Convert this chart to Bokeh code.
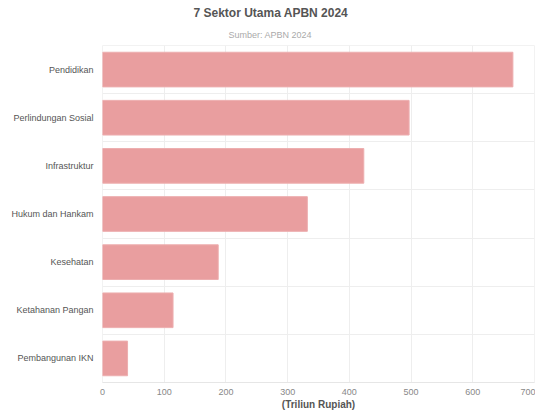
from bokeh.plotting import figure
from bokeh.models import Range1d, FixedTicker, Title, ColumnDataSource
from bokeh.embed import file_html
from bokeh.resources import INLINE

categories = ["Pendidikan", "Perlindungan Sosial", "Infrastruktur", "Hukum dan Hankam",
              "Kesehatan", "Ketahanan Pangan", "Pembangunan IKN"]
values = [665.0, 496.8, 423.4, 331.9, 187.5, 114.3, 40.6]
x_ticks = [0, 100, 200, 300, 400, 500, 600, 700]
title_text = "7 Sektor Utama APBN 2024"
subtitle_text = "Sumber: APBN 2024"
x_label = "(Triliun Rupiah)"

n = len(categories)
pos = list(range(n))
src = ColumnDataSource(dict(y=pos, v=values, cat=categories))

p = figure(width=535, height=412, output_backend="svg", toolbar_location=None,
           x_range=Range1d(0, 700), y_range=Range1d(n - 0.5, -0.5),
           min_border_left=102, min_border_right=1, min_border_top=45, min_border_bottom=10)
p.hbar(y="y", right="v", left=0, height=0.72, source=src,
       fill_color="#e99e9f", line_color="#edaeaf", line_width=1)

p.xaxis.ticker = FixedTicker(ticks=x_ticks)
p.yaxis.ticker = FixedTicker(ticks=pos, minor_ticks=[i - 0.5 for i in range(n + 1)])
p.yaxis.major_label_overrides = {i: c for i, c in enumerate(categories)}

for ax in (p.xaxis, p.yaxis):
    ax.major_tick_line_color = None
    ax.minor_tick_line_color = None
    ax.major_tick_out = 0
    ax.minor_tick_out = 0
    ax.major_label_text_font = "Liberation Sans"
    ax.major_label_text_font_size = "9px"
p.yaxis.axis_line_color = None
p.yaxis.major_label_text_color = "#555555"
p.yaxis.major_label_standoff = 9
p.xaxis.axis_line_color = "#e6e6e6"
p.xaxis.major_label_text_color = "#888888"
p.xaxis.major_label_standoff = 6
p.xaxis.axis_label = x_label
p.xaxis.axis_label_text_font = "Liberation Sans"
p.xaxis.axis_label_text_font_style = "bold"
p.xaxis.axis_label_text_font_size = "10px"
p.xaxis.axis_label_text_color = "#555555"
p.xaxis.axis_label_standoff = 1

p.xgrid.grid_line_color = "#eeeeee"
p.ygrid.grid_line_color = None
p.ygrid.minor_grid_line_color = "#eeeeee"
p.outline_line_color = "#f2f2f2"

sub = Title(text=subtitle_text, align="left", offset=126, text_font="Liberation Sans",
            text_font_size="9px", text_font_style="normal", text_color="#aaaaaa", standoff=12)
main = Title(text=title_text, align="left", offset=91, text_font="Liberation Sans",
             text_font_size="12px", text_font_style="bold", text_color="#555555", standoff=4)
p.add_layout(sub, "above")
p.add_layout(main, "above")

open("out.html", "w").write(file_html(p, INLINE))
